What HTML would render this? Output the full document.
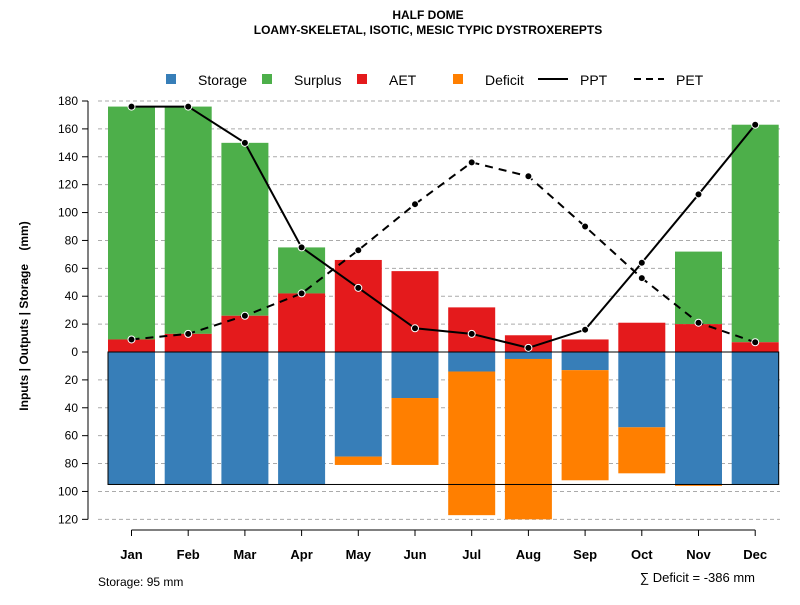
<!DOCTYPE html>
<html><head><meta charset="utf-8"><style>
body{margin:0;background:#fff;font-family:"Liberation Sans",sans-serif}
svg text{font-family:"Liberation Sans",sans-serif}
</style></head><body>
<svg id="c" width="800" height="600" xmlns="http://www.w3.org/2000/svg">
<text x="428" y="19" text-anchor="middle" font-size="12" font-weight="bold">HALF DOME</text>
<text x="428" y="34" text-anchor="middle" font-size="12" font-weight="bold">LOAMY-SKELETAL, ISOTIC, MESIC TYPIC DYSTROXEREPTS</text>
<g id="grid"></g><g id="bars"></g><g id="lines"></g><g id="axes"></g>
<g font-size="14">
<rect x="166" y="74" width="10" height="10" fill="#377eb8"/><text x="198" y="85">Storage</text>
<rect x="262" y="74" width="10" height="10" fill="#4daf4a"/><text x="294" y="85">Surplus</text>
<rect x="357" y="74" width="10" height="10" fill="#e41a1c"/><text x="389" y="85">AET</text>
<rect x="453" y="74" width="10" height="10" fill="#ff7f00"/><text x="485" y="85">Deficit</text>
<line x1="538" y1="79" x2="568" y2="79" stroke="#000" stroke-width="2"/><text x="580" y="85">PPT</text>
<line x1="634" y1="79" x2="664" y2="79" stroke="#000" stroke-width="2" stroke-dasharray="7,5"/><text x="676" y="85">PET</text>
</g>
<text transform="translate(28,316) rotate(-90)" text-anchor="middle" font-size="12" font-weight="bold">Inputs | Outputs | Storage&#160;&#160;&#160;&#160;(mm)</text>
<text x="98" y="586" font-size="12">Storage: 95 mm</text>
<text x="755" y="582" text-anchor="end" font-size="13">∑ Deficit = -386 mm</text>
</svg>
<script>
const months=["Jan","Feb","Mar","Apr","May","Jun","Jul","Aug","Sep","Oct","Nov","Dec"];
const aet=[9,13,26,42,66,58,32,12,9,21,20,7];
const surplusTop=[176,176,150,75,66,58,32,12,9,21,72,163];
const storage=[95,95,95,95,75,33,14,5,13,54,95,95];
const deficitBottom=[95,95,95,95,81,81,117,120,92,87,96,95];
const ppt=[176,176,150,75,46,17,13,3,16,64,113,163];
const pet=[9,13,26,42,73,106,136,126,90,53,21,7];
const yTicks=[180,160,140,120,100,80,60,40,20,0,-20,-40,-60,-80,-100,-120];
const storageCap=95;
const NS="http://www.w3.org/2000/svg";
const y=v=>352-v*251/180;
const xc=i=>131.5+i*56.7;
const bw=47;
function mk(p,t,a){const e=document.createElementNS(NS,t);for(const k in a)e.setAttribute(k,a[k]);document.getElementById(p).appendChild(e);return e;}
yTicks.forEach(v=>{
 if(v!==0){const g=mk("grid","line",{x1:98,x2:780,y1:y(v),y2:y(v),stroke:"#aaa","stroke-dasharray":"4,3"});
 
 }
 const t=mk("axes","line",{x1:82,x2:88,y1:y(v),y2:y(v),stroke:"#000"});
 
 
 const l=mk("axes","text",{x:78,y:y(v)+4,"text-anchor":"end","font-size":12});l.textContent=Math.abs(v);
 
 
});
const ya=mk("axes","line",{x1:88,x2:88,y1:y(180),y2:y(-120),stroke:"#000"});


const xa=mk("axes","line",{x1:xc(0),x2:xc(11),y1:530,y2:530,stroke:"#000"});


months.forEach((m,i)=>{
 const x=xc(i)-bw/2;
 const r1=mk("bars","rect",{x:x,y:y(surplusTop[i]),width:bw,height:y(aet[i])-y(surplusTop[i]),fill:"#4daf4a"});
 
 
 const r2=mk("bars","rect",{x:x,y:y(aet[i]),width:bw,height:y(0)-y(aet[i]),fill:"#e41a1c"});
 
 
 const r3=mk("bars","rect",{x:x,y:y(0),width:bw,height:y(-storage[i])-y(0),fill:"#377eb8"});
 
 
 const r4=mk("bars","rect",{x:x,y:y(-storage[i]),width:bw,height:y(-deficitBottom[i])-y(-storage[i]),fill:"#ff7f00"});
 
 
 const t=mk("axes","line",{x1:xc(i),x2:xc(i),y1:530,y2:536,stroke:"#000"});
 
 
 const l=mk("axes","text",{x:xc(i),y:559,"text-anchor":"middle","font-size":13,"font-weight":"bold"});l.textContent=m;
 
 
});
const box=mk("bars","rect",{x:xc(0)-bw/2,y:y(0),width:xc(11)-xc(0)+bw,height:y(-storageCap)-y(0),fill:"none",stroke:"#000"});


function line(arr,dash,name){
 const p=mk("lines","polyline",{points:arr.map((v,i)=>xc(i)+","+y(v)).join(" "),fill:"none",stroke:"#000","stroke-width":2,"stroke-dasharray":dash});
 
 
 arr.forEach((v,i)=>{const c=mk("lines","circle",{cx:xc(i),cy:y(v),r:3.5,fill:"#000",stroke:"#fff","stroke-width":1});
 
 });
}
line(pet,"8,6","pet");
line(ppt,"none","ppt");
</script>
</body></html>
